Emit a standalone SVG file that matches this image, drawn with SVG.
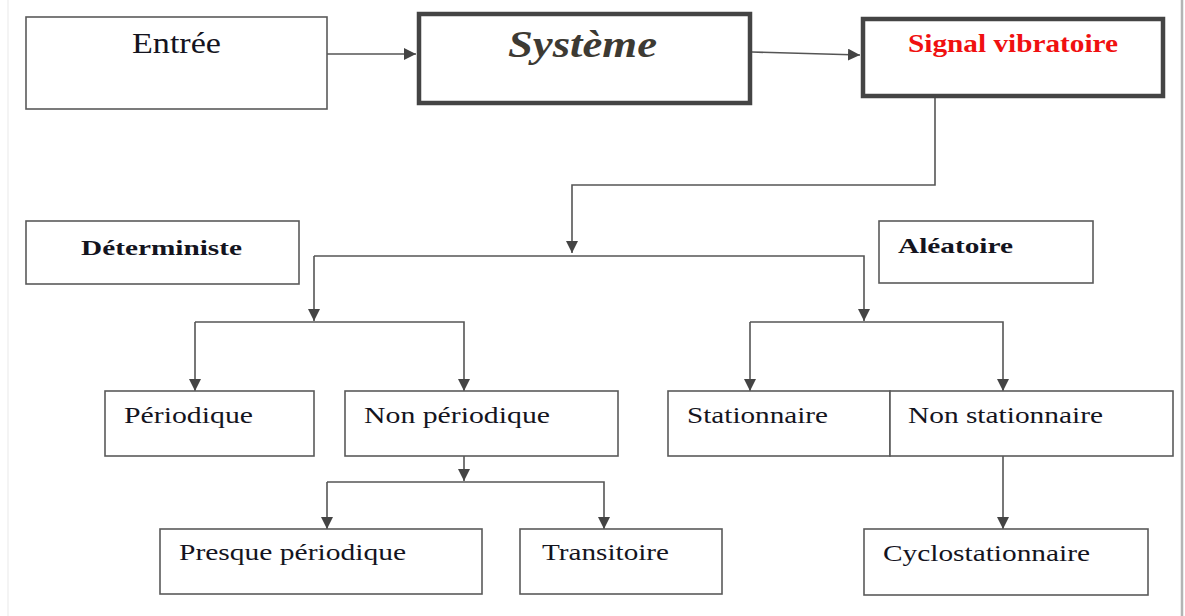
<svg xmlns="http://www.w3.org/2000/svg" width="1185" height="616" viewBox="0 0 1185 616">
<defs>
<style>
.box{fill:#fff;stroke:#5a5a5a;stroke-width:1.6}
.thick{fill:#fff;stroke:#444;stroke-width:4.5}
.lbl{font-family:"Liberation Serif","Times New Roman",serif;font-size:23.5px;fill:#14141e}
.bold{font-weight:bold;font-size:22px}
.conn{fill:none;stroke:#555;stroke-width:1.6}
</style>
<marker id="arr" markerUnits="userSpaceOnUse" markerWidth="14" markerHeight="14" refX="12" refY="6" orient="auto">
<path d="M0,0 L12,6 L0,12 Z" fill="#444"/>
</marker>
</defs>
<rect width="1185" height="616" fill="#fff"/>
<line x1="8" y1="0" x2="8" y2="616" stroke="#f0f0f0" stroke-width="1.5"/>
<line x1="1182" y1="0" x2="1182" y2="616" stroke="#b4b4b4" stroke-width="2.5"/>

<g id="connectors">
<path class="conn" d="M327,54 H416" marker-end="url(#arr)"/>
<path class="conn" d="M752,52 L860,55" marker-end="url(#arr)"/>
<path class="conn" d="M935,98 V185 H572 V253" marker-end="url(#arr)"/>
<path class="conn" d="M314,256 H864 V321" marker-end="url(#arr)"/>
<path class="conn" d="M314,256 V321" marker-end="url(#arr)"/>
<path class="conn" d="M195,322 H464 V391" marker-end="url(#arr)"/>
<path class="conn" d="M195,322 V391" marker-end="url(#arr)"/>
<path class="conn" d="M750,322 H1003 V391" marker-end="url(#arr)"/>
<path class="conn" d="M750,322 V391" marker-end="url(#arr)"/>
<path class="conn" d="M464,456 V481" marker-end="url(#arr)"/>
<path class="conn" d="M327,482 H604 V529" marker-end="url(#arr)"/>
<path class="conn" d="M327,482 V529" marker-end="url(#arr)"/>
<path class="conn" d="M1003,456 V529" marker-end="url(#arr)"/>
</g>

<g id="entree">
<rect class="box" x="26" y="17" width="301" height="92"/>
<text class="lbl" x="132" y="53" style="font-size:29px" textLength="89" lengthAdjust="spacingAndGlyphs">Entrée</text>
</g>
<g id="systeme">
<rect class="thick" x="419" y="14" width="331" height="89"/>
<text class="lbl" x="508" y="57" style="font-size:37px;font-weight:bold;font-style:italic;fill:#3d3a33" textLength="149" lengthAdjust="spacingAndGlyphs">Système</text>
</g>
<g id="signal">
<rect class="thick" x="863" y="19" width="300" height="77"/>
<text class="lbl" x="908" y="52" style="font-size:25px;font-weight:bold;fill:#f01010" textLength="210" lengthAdjust="spacingAndGlyphs">Signal vibratoire</text>
</g>
<g id="deterministe">
<rect class="box" x="26" y="221" width="273" height="63"/>
<text class="lbl bold" x="81" y="255" textLength="161" lengthAdjust="spacingAndGlyphs">Déterministe</text>
</g>
<g id="aleatoire">
<rect class="box" x="879" y="221" width="214" height="62"/>
<text class="lbl bold" x="898" y="253" textLength="115" lengthAdjust="spacingAndGlyphs">Aléatoire</text>
</g>
<g id="periodique">
<rect class="box" x="105" y="391" width="209" height="65"/>
<text class="lbl" x="124" y="423" textLength="129" lengthAdjust="spacingAndGlyphs">Périodique</text>
</g>
<g id="non-periodique">
<rect class="box" x="345" y="391" width="273" height="65"/>
<text class="lbl" x="364" y="423" textLength="186" lengthAdjust="spacingAndGlyphs">Non périodique</text>
</g>
<g id="stationnaire">
<rect class="box" x="668" y="391" width="222" height="65"/>
<text class="lbl" x="687" y="423" textLength="141" lengthAdjust="spacingAndGlyphs">Stationnaire</text>
</g>
<g id="non-stationnaire">
<rect class="box" x="890" y="391" width="283" height="65"/>
<text class="lbl" x="908" y="423" textLength="195" lengthAdjust="spacingAndGlyphs">Non stationnaire</text>
</g>
<g id="presque-periodique">
<rect class="box" x="160" y="529" width="322" height="65"/>
<text class="lbl" x="179" y="560" textLength="227" lengthAdjust="spacingAndGlyphs">Presque périodique</text>
</g>
<g id="transitoire">
<rect class="box" x="520" y="529" width="202" height="65"/>
<text class="lbl" x="542" y="560" textLength="127" lengthAdjust="spacingAndGlyphs">Transitoire</text>
</g>
<g id="cyclostationnaire">
<rect class="box" x="864" y="529" width="284" height="66"/>
<text class="lbl" x="883" y="561" textLength="207" lengthAdjust="spacingAndGlyphs">Cyclostationnaire</text>
</g>
</svg>
